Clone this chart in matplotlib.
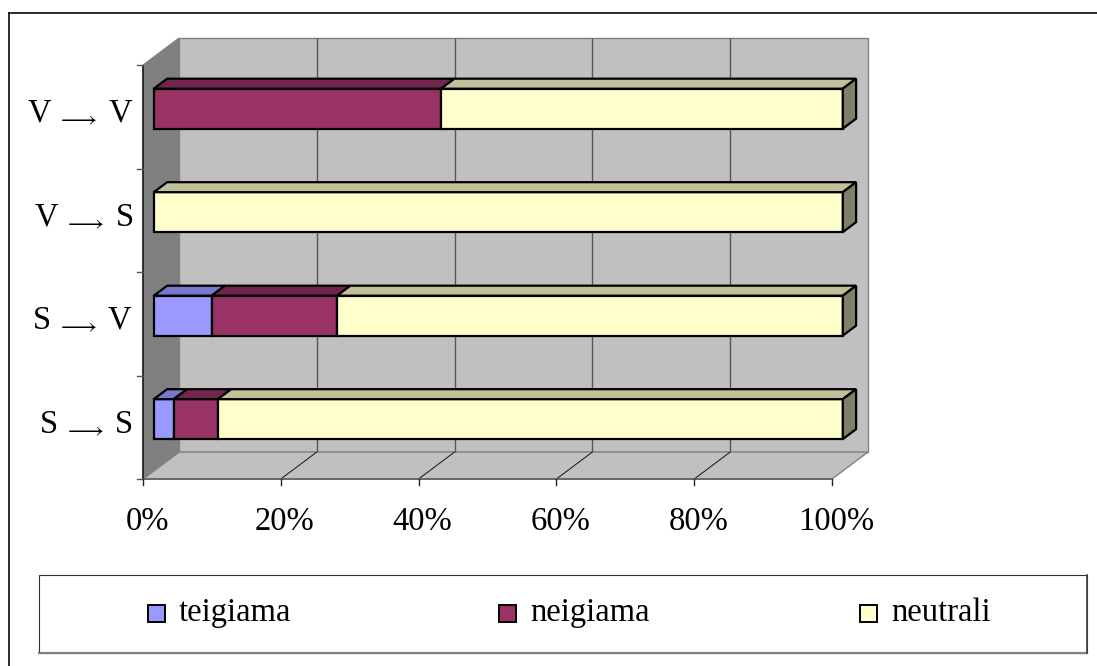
import matplotlib
matplotlib.use('Agg')
import matplotlib.pyplot as plt
from matplotlib.patches import Polygon, Rectangle

plt.rcParams['font.family'] = ['Liberation Serif', 'DejaVu Serif']
plt.rcParams['mathtext.fontset'] = 'stix'

# Shares (%) per transition type
categories = ['S → S', 'S → V', 'V → S', 'V → V']
teigiama = [2.9, 8.4, 0.0, 0.0]
neigiama = [6.4, 18.2, 0.0, 41.7]
neutrali = [90.7, 73.4, 100.0, 58.3]
series_names = ['teigiama', 'neigiama', 'neutrali']
xticks = [0, 20, 40, 60, 80, 100]

front_cols = ['#9999FF', '#993366', '#FFFFCC']
top_cols = ['#7777CC', '#73264D', '#C0C09A']
side_col = '#80806A'

W, H = 1097, 666
fig = plt.figure(figsize=(W / 100, H / 100), dpi=100)

# main axes: front plane of the 3D box
ax = fig.add_axes([143 / W, 1 - 479 / H, 689 / W, 414 / H])
ax.set_xlim(0, 100)
ax.set_ylim(-0.5, len(categories) - 0.5)
ax.axis('off')

# depth offset for the full box depth, in data units
DX = 36 / 689 * 100
DY = 27 / 103.5
y0, y1 = -0.5, len(categories) - 0.5


def proj(pts):
    return [(x + d * DX, y + d * DY) for x, y, d in pts]


def face(pts, fc, ec='none', lw=0, z=1):
    ax.add_patch(Polygon(proj(pts), closed=True, facecolor=fc, edgecolor=ec,
                         linewidth=lw, zorder=z, clip_on=False))


def line(pts, color, lw, z=2):
    p = proj(pts)
    ax.plot([a for a, b in p], [b for a, b in p], color=color, lw=lw,
            zorder=z, clip_on=False, solid_capstyle='butt')


# walls and floor
face([(0, y0, 1), (100, y0, 1), (100, y1, 1), (0, y1, 1)], '#C0C0C0', '#808080', 1.0)
face([(0, y0, 0), (100, y0, 0), (100, y0, 1), (0, y0, 1)], '#C0C0C0', '#808080', 1.0)
face([(0, y0, 0), (0, y0, 1), (0, y1, 1), (0, y1, 0)], '#808080', '#808080', 0.8)

for x in xticks[1:-1]:
    line([(x, y0, 1), (x, y1, 1)], '#555555', 1.0)
    line([(x, y0, 0), (x, y0, 1)], '#111111', 0.7)

# axis lines and ticks
line([(0, y0, 0), (0, y1, 0)], '#111111', 1.1, z=3)
line([(0, y0, 0), (100, y0, 0)], '#666666', 1.3, z=3)
for k in range(len(categories) + 1):
    yy = y0 + k
    ax.plot([-0.87, 0], [yy, yy], color='#555555', lw=1.0, clip_on=False, zorder=3)
for x in xticks:
    ax.plot([x, x], [y0, y0 - 0.058], color='#222222', lw=1.0, clip_on=False, zorder=3)
    ax.text(x + 0.6, y0 - 0.41, f'{x}%', ha='center', va='center', fontsize=23.5)

# category labels, arrow set low like a subscript
for i, lab in enumerate(categories):
    a, b = lab.split(' → ')
    ax.text(-1.4, i + 0.04, a + r'$\;_{\longrightarrow}\;$' + b, ha='right', va='center',
            fontsize=23.5)

# stacked 3D bars
d1, d2 = 0.3, 0.67
hh = 0.193
for i in range(len(categories)):
    vals = [teigiama[i], neigiama[i], neutrali[i]]
    bot, top = i - hh, i + hh
    left = 0.0
    for s, v in enumerate(vals):
        if v <= 0:
            continue
        right = left + v
        face([(left, bot, d1), (right, bot, d1), (right, top, d1), (left, top, d1)],
             front_cols[s], 'black', 1.6, z=5)
        face([(left, top, d1), (right, top, d1), (right, top, d2), (left, top, d2)],
             top_cols[s], 'black', 1.6, z=5)
        left = right
    face([(left, bot, d1), (left, top, d1), (left, top, d2), (left, bot, d2)],
         side_col, 'black', 1.6, z=5)

# frame and legend drawn in pixel coordinates
ov = fig.add_axes([0, 0, 1, 1], zorder=-1)
ov.set_xlim(0, W)
ov.set_ylim(H, 0)
ov.axis('off')
ov.plot([8.5, W], [12.5, 12.5], color='#1a1a1a', lw=1.3)
ov.plot([8.5, 8.5], [12.5, H], color='#1a1a1a', lw=1.3)

leg_ax = fig.add_axes([0, 0, 1, 1])
leg_ax.set_xlim(0, W)
leg_ax.set_ylim(H, 0)
leg_ax.axis('off')
leg_ax.add_patch(Rectangle((39, 575), 1048, 78, facecolor='white', edgecolor='#303030', lw=0.8))
leg_ax.plot([39, 1087], [653, 653], color='#808080', lw=1.6)
leg_ax.plot([1087, 1087], [575, 653], color='#404040', lw=1.2)
sq_x = [148, 499, 860]
for s, name in enumerate(series_names):
    leg_ax.add_patch(Rectangle((sq_x[s], 605), 17, 17, facecolor=front_cols[s],
                               edgecolor='black', lw=1.4))
    leg_ax.text(sq_x[s] + 31, 613, name, ha='left', va='center', fontsize=23.5)

fig.savefig('out.png', dpi=100)
